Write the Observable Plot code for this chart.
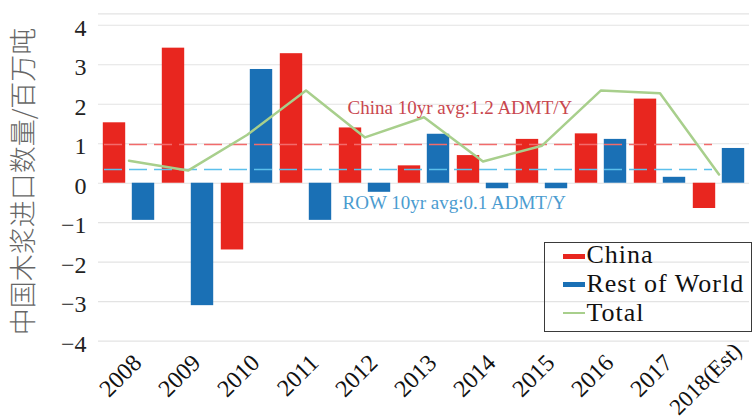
<!DOCTYPE html>
<html><head><meta charset="utf-8">
<script src="https://cdn.jsdelivr.net/npm/d3@7"></script>
<script src="https://cdn.jsdelivr.net/npm/@observablehq/plot@0.6"></script>
<style>
html,body{margin:0;padding:0;background:#fff;}
#wrap{position:relative;width:752px;height:419px;overflow:hidden;}
#legend{position:absolute;left:544px;top:241.7px;width:208px;height:90px;box-sizing:border-box;border:1.3px solid #3a3a3a;font-family:"Liberation Serif",serif;font-size:26px;letter-spacing:1px;color:#111;}
.lrow{position:absolute;left:41.4px;line-height:29px;white-space:nowrap;}
.sw{position:absolute;left:18px;width:22px;}
</style></head><body><div id="wrap"></div>
<script>
// ---- data ----
const years = ["2008","2009","2010","2011","2012","2013","2014","2015","2016","2017","2018(Est)"];
const china = [1.53, 3.42, -1.69, 3.28, 1.40, 0.44, 0.70, 1.11, 1.25, 2.13, -0.64];
const restOfWorld = [-0.94, -3.10, 2.88, -0.94, -0.23, 1.24, -0.14, -0.14, 1.11, 0.15, 0.88];
const total = [0.57, 0.32, 1.22, 2.35, 1.16, 1.67, 0.55, 0.95, 2.35, 2.28, 0.22];
const yTicks = [-4, -3, -2, -1, 0, 1, 2, 3, 4];
const yTop = 4.29;
const chinaAvgLevel = 0.98;
const rowAvgLevel = 0.35;
const chinaAvgLabel = "China 10yr avg:1.2 ADMT/Y";
const rowAvgLabel = "ROW 10yr avg:0.1 ADMT/Y";
const legendLabels = ["China", "Rest of World", "Total"];
const yLabel = "中国木浆进口数量/百万吨";

// ---- colours / fonts ----
const red = "#e8261f", blue = "#1a70b5", green = "#a8cf8c";
const redDash = "#f26b6b", blueDash = "#5cc0ec";
const redText = "#c9474f", blueText = "#4b9cd0";
const serif = '"Liberation Serif", "DejaVu Serif", serif';

const rows = years.map((year, i) => ({year, china: china[i], row: restOfWorld[i], total: total[i]}));

const chart = Plot.plot({
  width: 752, height: 419,
  marginLeft: 98, marginRight: 3, marginTop: 13.3, marginBottom: 78.3,
  style: {fontFamily: serif, background: "transparent", color: "#222"},
  x: {domain: years, padding: 0, axis: null},
  y: {domain: [-4, yTop], axis: null},
  marks: [
    Plot.ruleY(yTicks.concat([yTop]), {stroke: "#e3e3e3", strokeWidth: 1.2}),
    Plot.barY(rows, {x: "year", y: "china", fill: red, insetLeft: 3.8, insetRight: 32.8}),
    Plot.barY(rows, {x: "year", y: "row", fill: blue, insetLeft: 32.8, insetRight: 3.8}),
    Plot.ruleY([chinaAvgLevel], {x1: () => years[0], x2: () => years[years.length - 1], stroke: redDash, strokeWidth: 1.5, strokeDasharray: "18,7", insetLeft: 5, insetRight: 36}),
    Plot.ruleY([rowAvgLevel], {x1: () => years[0], x2: () => years[years.length - 1], stroke: blueDash, strokeWidth: 1.5, strokeDasharray: "18,7", insetLeft: 5, insetRight: 36}),
    Plot.line(rows, {x: "year", y: "total", stroke: green, strokeWidth: 2.5}),
    Plot.text([chinaAvgLabel], {x: () => "2012", y: () => chinaAvgLevel, text: d => d, textAnchor: "start", lineAnchor: "bottom", dx: -17.5, dy: -30.7, fill: redText, fontSize: 19, fontFamily: serif}),
    Plot.text([rowAvgLabel], {x: () => "2012", y: () => rowAvgLevel, text: d => d, textAnchor: "start", lineAnchor: "bottom", dx: -22.5, dy: 39.5, fill: blueText, fontSize: 19, fontFamily: serif}),
    Plot.axisY(yTicks, {tickSize: 0, tickPadding: 12, fontSize: 24, dy: 3, fill: "#222", fontFamily: serif}),
    Plot.text(years.slice(0, -1), {x: d => d, text: d => d, frameAnchor: "bottom", rotate: -45, textAnchor: "end", lineAnchor: "bottom", dx: 14, dy: 23, fontSize: 24, fill: "#111", fontFamily: serif}),
    Plot.text(years.slice(-1), {x: d => d, text: d => d, frameAnchor: "bottom", rotate: -45, textAnchor: "end", lineAnchor: "bottom", dx: 24, dy: 11, fontSize: 23, fill: "#111", fontFamily: serif}),
    Plot.text([yLabel], {text: d => d, frameAnchor: "left", textAnchor: "middle", rotate: -90, dx: -74, dy: 4, fontSize: 27, fontFamily: '"Noto Sans CJK SC", sans-serif', fontWeight: 300, fill: "#666"})
  ]
});

const wrap = document.getElementById("wrap");
wrap.appendChild(chart);

// ---- legend (inside plot area) ----
const legend = document.createElement("div");
legend.id = "legend";
const swatchStyle = [
  {top: 11.5, height: 5, color: red},
  {top: 39.5, height: 5, color: blue},
  {top: 69.3, height: 2, color: green}
];
legendLabels.forEach((label, i) => {
  const sw = document.createElement("div");
  sw.className = "sw";
  sw.style.top = swatchStyle[i].top + "px";
  sw.style.height = swatchStyle[i].height + "px";
  sw.style.background = swatchStyle[i].color;
  legend.appendChild(sw);
  const t = document.createElement("div");
  t.className = "lrow";
  t.style.top = (-3 + i * 29) + "px";
  t.textContent = label;
  legend.appendChild(t);
});
wrap.appendChild(legend);
</script>
</body></html>
